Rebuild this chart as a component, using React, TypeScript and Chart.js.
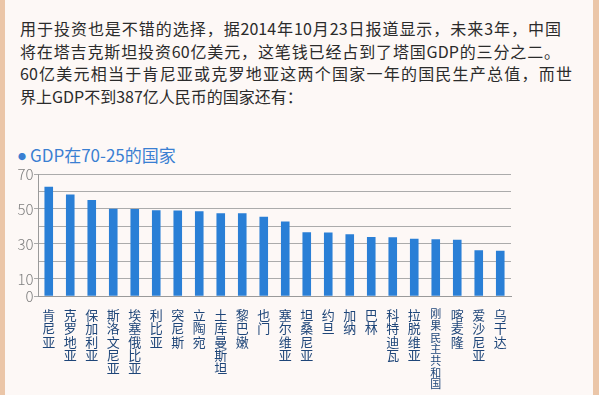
import React, { useEffect, useRef } from "react";
import { Chart, registerables } from "chart.js";

Chart.register(...registerables);

const paragraphLines = [
  "用于投资也是不错的选择，据2014年10月23日报道显示，未来3年，中国",
  "将在塔吉克斯坦投资60亿美元，这笔钱已经占到了塔国GDP的三分之二。",
  "60亿美元相当于肯尼亚或克罗地亚这两个国家一年的国民生产总值，而世",
  "界上GDP不到387亿人民币的国家还有：",
];
const lineWidths = [541, 540, 552, 0];

const chartTitle = "GDP在70-25的国家";

const categories = [
  "肯尼亚", "克罗地亚", "保加利亚", "斯洛文尼亚", "埃塞俄比亚", "利比亚",
  "突尼斯", "立陶宛", "土库曼斯坦", "黎巴嫩", "也门", "塞尔维亚",
  "坦桑尼亚", "约旦", "加纳", "巴林", "科特迪瓦", "拉脱维亚",
  "刚果民主共和国", "喀麦隆", "爱沙尼亚", "乌干达",
];

const gdpValues = [
  62.7, 58.3, 55.1, 50.1, 49.9, 49.3, 49.1, 48.7, 47.6, 47.6, 45.5, 42.8,
  36.7, 36.5, 35.5, 34.0, 33.8, 32.9, 32.7, 32.3, 26.4, 26.0,
];

const yMin = 0;
const yMax = 70;
const yStep = 10;
const yLabelled = [70, 50, 30, 10, 0];

const FONT = "'Noto Sans CJK SC', 'Noto Sans', sans-serif";

function BarChart() {
  const ref = useRef<HTMLCanvasElement | null>(null);
  useEffect(() => {
    if (!ref.current) return;
    const chart = new Chart(ref.current, {
      type: "bar",
      data: {
        labels: categories.map((c) => c.split("")),
        datasets: [
          {
            data: gdpValues,
            backgroundColor: "#2a7fd6",
            borderWidth: 0,
            barPercentage: 0.4,
            categoryPercentage: 1,
          },
        ],
      },
      options: {
        animation: false,
        responsive: true,
        maintainAspectRatio: false,
        layout: { padding: { top: 10, right: 9, left: 0, bottom: 0 } },
        plugins: { legend: { display: false }, tooltip: { enabled: false } },
        scales: {
          x: {
            grid: { display: false },
            border: { display: true, color: "#9a9a9a", width: 1 },
            ticks: {
              autoSkip: false,
              maxRotation: 0,
              minRotation: 0,
              padding: 4,
              color: "#1f4679",
              font: (ctx: any) =>
                ctx.index === 18
                  ? { family: FONT, size: 11, lineHeight: 1.06 }
                  : { family: FONT, size: 13, lineHeight: 1.025 },
            },
            afterFit: (scale: any) => {
              scale.height = 98.7;
            },
          },
          y: {
            min: yMin,
            max: yMax,
            border: { display: true, color: "#9a9a9a", width: 1 },
            grid: {
              color: "#ababab",
              lineWidth: 1,
              drawTicks: true,
              tickLength: 4,
              tickColor: (ctx: any) =>
                ctx.tick && yLabelled.includes(ctx.tick.value) ? "#ababab" : "rgba(0,0,0,0)",
            },
            ticks: {
              autoSkip: false,
              stepSize: yStep,
              padding: 0.5,
              color: "#7f7f7f",
              font: { family: FONT, size: 15, weight: "300" as any },
              callback: (v: any) => (yLabelled.includes(Number(v)) ? String(v) : ""),
            },
            afterFit: (scale: any) => {
              scale.width = 38;
            },
          },
        },
      },
    });
    return () => chart.destroy();
  }, []);
  return <canvas ref={ref} />;
}

export default function App() {
  return (
    <div
      style={{
        position: "absolute",
        left: 0,
        top: 0,
        width: 599,
        height: 395,
        background: "#fdf8f6",
        overflow: "hidden",
        fontFamily: FONT,
      }}
    >
      <div style={{ position: "absolute", left: 0, top: 0, width: 5, height: 395, background: "#ebc6a8" }} />
      <div style={{ position: "absolute", left: 593, top: 0, width: 6, height: 395, background: "#ebc6a8" }} />
      {paragraphLines.map((line, i) => (
        <div
          key={i}
          style={{
            position: "absolute",
            left: 20,
            top: 17 + i * 22.5,
            height: 22.5,
            lineHeight: "22.5px",
            fontSize: 16,
            color: "#2b2b2b",
            whiteSpace: "nowrap",
            width: lineWidths[i] ? lineWidths[i] : undefined,
            textAlign: lineWidths[i] ? ("justify" as any) : "left",
            textAlignLast: lineWidths[i] ? ("justify" as any) : "auto",
          }}
        >
          {line}
        </div>
      ))}
      <div
        style={{
          position: "absolute",
          left: 18,
          top: 144,
          lineHeight: "22px",
          fontSize: 17,
          fontWeight: 400,
          color: "#3a7fd2",
          whiteSpace: "nowrap",
        }}
      >
        <span style={{ fontSize: 8, marginRight: 4, verticalAlign: "2px" }}>●</span>
        {chartTitle}
      </div>
      <div style={{ position: "absolute", left: 0, top: 164, width: 520, height: 231 }}>
        <BarChart />
      </div>
    </div>
  );
}
